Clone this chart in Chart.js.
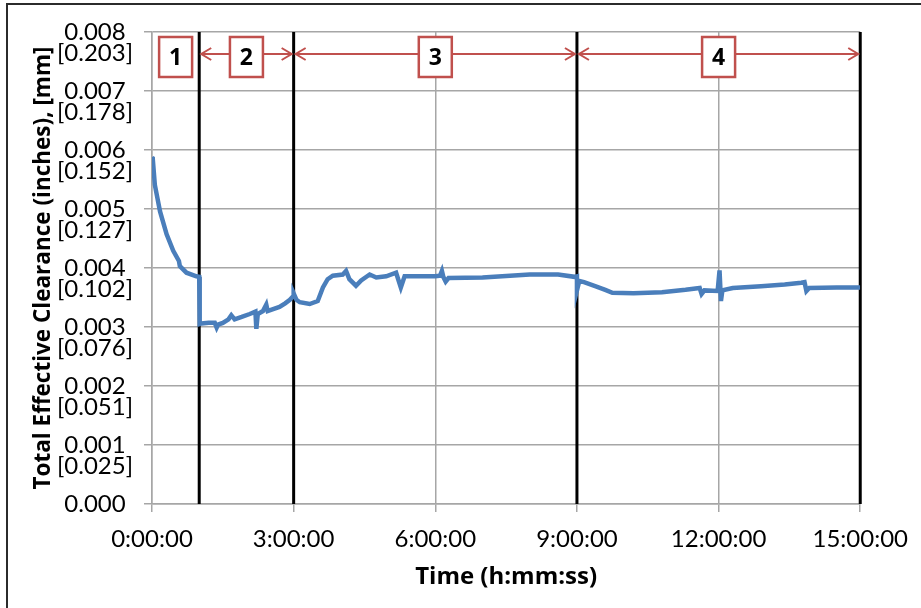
<!DOCTYPE html>
<html>
<head>
<meta charset="utf-8">
<script src="https://cdn.jsdelivr.net/npm/chart.js@4/dist/chart.umd.min.js"></script>
<style>
  html, body { margin: 0; padding: 0; background: #fff; }
  #wrap { width: 921px; height: 608px; }
</style>
</head>
<body>
<div id="wrap"><canvas id="chart" width="921" height="608"></canvas></div>
<script>
// clearance trace, time in hours
var timeHours = [
    0.00, 0.015, 0.06, 0.17, 0.31, 0.45, 0.57, 0.59, 0.73, 0.94, 1.00,
    1.01, 1.05, 1.20, 1.33, 1.37, 1.40, 1.50, 1.62, 1.68, 1.75, 1.90, 2.07, 2.19, 2.21,
    2.24, 2.35, 2.42, 2.45, 2.55, 2.70, 2.82, 2.92, 2.99, 3.00, 3.06, 3.13, 3.34, 3.51,
    3.62, 3.72, 3.83, 4.04, 4.11, 4.18, 4.32, 4.43, 4.61, 4.75, 4.96, 5.17, 5.27, 5.35,
    5.80, 6.00, 6.10, 6.14, 6.17, 6.22, 6.28, 7.00, 8.00, 8.60, 8.95, 9.00, 9.00, 9.05,
    9.15, 9.40, 9.60, 9.75, 10.20, 10.80, 11.30, 11.60, 11.64, 11.70, 11.98, 12.02, 12.05,
    12.08, 12.30, 12.90, 13.40, 13.75, 13.82, 13.86, 13.92, 14.50, 15.00
];
var clearanceIn = [
    0.00588, 0.00586, 0.00541, 0.00496, 0.00457, 0.00429, 0.00412, 0.00403, 0.00392, 0.00386, 0.00385,
    0.00305, 0.00306, 0.00307, 0.00307, 0.00299, 0.00304, 0.00307, 0.00313, 0.00320, 0.00313, 0.00317, 0.00322, 0.00326, 0.00297,
    0.00322, 0.00327, 0.00338, 0.00327, 0.00330, 0.00334, 0.00340, 0.00346, 0.00352, 0.00357, 0.00346, 0.00342, 0.00339, 0.00344,
    0.00367, 0.00381, 0.00387, 0.00389, 0.00395, 0.00381, 0.00370, 0.00379, 0.00389, 0.00384, 0.00386, 0.00392, 0.00367, 0.00386,
    0.00386, 0.00386, 0.00387, 0.00395, 0.00385, 0.00377, 0.00383, 0.00384, 0.00389, 0.00389, 0.00385, 0.00386, 0.00362, 0.00378,
    0.00376, 0.00369, 0.00363, 0.00358, 0.00357, 0.00359, 0.00363, 0.00366, 0.00356, 0.00362, 0.00361, 0.00396, 0.00344,
    0.00362, 0.00366, 0.00369, 0.00372, 0.00375, 0.00376, 0.00361, 0.00366, 0.00367, 0.00367
];

// test phases
var phaseBounds = [0, 1, 3, 9, 15];
var phaseLabels = ['1', '2', '3', '4'];
var phaseHasArrow = [false, true, true, true];
var arrowLevel = 0.00763;

var xTickLabels = ['0:00:00', '3:00:00', '6:00:00', '9:00:00', '12:00:00', '15:00:00'];
var yTickInches = ['0.000', '0.001', '0.002', '0.003', '0.004', '0.005', '0.006', '0.007', '0.008'];
var yTickMm = ['', '[0.025]', '[0.051]', '[0.076]', '[0.102]', '[0.127]', '[0.152]', '[0.178]', '[0.203]'];

var RED = '#C0504D';
var BLUE = '#4A7EBB';
var GRID = '#a6a6a6';
var FONT = 'Lato, "Open Sans", sans-serif';
var BOLD_FONT = '"Open Sans", Lato, sans-serif';

var framePlugin = {
    id: 'frame',
    beforeDraw: function (chart) {
        var ctx = chart.ctx;
        ctx.save();
        ctx.fillStyle = '#fff';
        ctx.fillRect(0, 0, chart.width, chart.height);
        ctx.restore();
    },
    afterDraw: function (chart) {
        var ctx = chart.ctx;
        ctx.save();
        ctx.strokeStyle = '#2b2b2b';
        ctx.lineWidth = 2;
        ctx.strokeRect(7, 4, chart.width + 20, chart.height + 20);
        ctx.restore();
    }
};

var phasePlugin = {
    id: 'phases',
    afterDatasetsDraw: function (chart) {
        var ctx = chart.ctx;
        var xs = chart.scales.x;
        var ys = chart.scales.y;
        var y = Math.round(ys.getPixelForValue(arrowLevel));
        ctx.save();
        for (var i = 0; i < phaseLabels.length; i++) {
            var x0 = xs.getPixelForValue(phaseBounds[i]);
            var x1 = xs.getPixelForValue(phaseBounds[i + 1]);
            var xm = xs.getPixelForValue((phaseBounds[i] + phaseBounds[i + 1]) / 2);
            ctx.strokeStyle = RED;
            ctx.lineWidth = 2;
            if (phaseHasArrow[i]) {
                var a = x0 + 2, b = x1 - 2;
                ctx.beginPath();
                ctx.moveTo(a, y);
                ctx.lineTo(b, y);
                ctx.moveTo(a + 10, y - 6);
                ctx.lineTo(a, y);
                ctx.lineTo(a + 10, y + 6);
                ctx.moveTo(b - 10, y - 6);
                ctx.lineTo(b, y);
                ctx.lineTo(b - 10, y + 6);
                ctx.stroke();
            }
            // label box
            var bw = 33, bh = 40, by = y + 3;
            ctx.fillStyle = '#fff';
            ctx.fillRect(xm - bw / 2, by - bh / 2, bw, bh);
            ctx.lineWidth = 2.5;
            ctx.strokeRect(xm - bw / 2, by - bh / 2, bw, bh);
            ctx.fillStyle = '#000';
            ctx.font = 'bold 23px ' + BOLD_FONT;
            ctx.textAlign = 'center';
            ctx.textBaseline = 'middle';
            ctx.fillText(phaseLabels[i], xm, by + 1);
        }
        ctx.restore();
    }
};

var seriesData = timeHours.map(function (t, i) {
    return { x: t, y: clearanceIn[i] };
});

var datasets = [{
    data: seriesData,
    borderColor: BLUE,
    borderWidth: 4.5,
    pointRadius: 0,
    tension: 0
}];

// black phase boundaries
for (var k = 1; k < phaseBounds.length; k++) {
    datasets.push({
        data: [{ x: phaseBounds[k], y: 0 }, { x: phaseBounds[k], y: 0.008 }],
        borderColor: '#000',
        borderWidth: 3,
        pointRadius: 0,
        clip: false
    });
}

new Chart(document.getElementById('chart'), {
    type: 'line',
    data: { datasets: datasets },
    plugins: [framePlugin, phasePlugin],
    options: {
        responsive: false,
        animation: false,
        layout: { padding: { left: 7, top: 30, right: 59, bottom: 0 } },
        plugins: { legend: { display: false }, tooltip: { enabled: false } },
        scales: {
            x: {
                type: 'linear',
                min: 0,
                max: 15,
                afterFit: function (scale) { scale.height = 104; },
                grid: { color: GRID, lineWidth: 1.5, tickLength: 8, tickColor: GRID },
                border: { color: GRID, width: 1.5 },
                ticks: {
                    stepSize: 3,
                    padding: 13,
                    color: '#000',
                    maxRotation: 0,
                    font: { family: FONT, size: 24 },
                    callback: function (v, i) { return xTickLabels[i]; }
                },
                title: {
                    display: true,
                    text: 'Time (h:mm:ss)',
                    color: '#000',
                    font: { family: BOLD_FONT, size: 24, weight: 'bold' },
                    padding: { top: 0, bottom: 16 }
                }
            },
            y: {
                min: 0,
                max: 0.008,
                afterFit: function (scale) { scale.width = 145; },
                grid: { color: GRID, lineWidth: 1.5, tickLength: 8, tickColor: GRID },
                border: { color: GRID, width: 1.5 },
                ticks: {
                    stepSize: 0.001,
                    padding: 11,
                    color: '#000',
                    crossAlign: 'center',
                    labelOffset: 10.5,
                    font: { family: FONT, size: 24, lineHeight: '21px' },
                    callback: function (v, i) { return [yTickInches[i], yTickMm[i]]; }
                },
                title: {
                    display: true,
                    text: 'Total Effective Clearance (inches), [mm]',
                    color: '#000',
                    font: { family: BOLD_FONT, size: 22.5, weight: 'bold' },
                    padding: { top: 23, bottom: 0 }
                }
            }
        }
    }
});
</script>
</body>
</html>
